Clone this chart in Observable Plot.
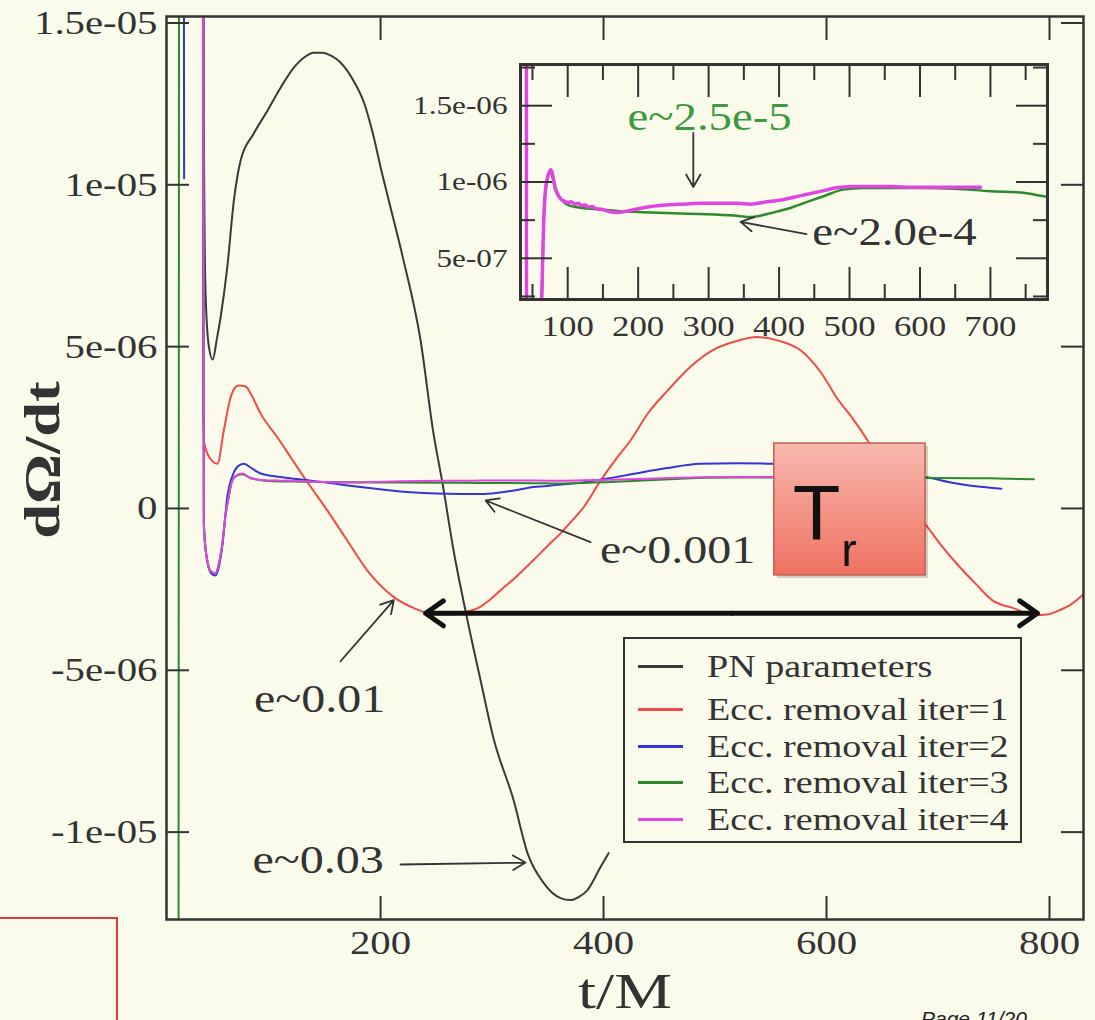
<!DOCTYPE html>
<html>
<head>
<meta charset="utf-8">
<script src="https://cdn.jsdelivr.net/npm/d3@7"></script>
<script src="https://cdn.jsdelivr.net/npm/@observablehq/plot@0.6"></script>
<style>
  html, body { margin:0; padding:0; background:#fbfbec; width:1095px; height:1020px; overflow:hidden; }
  #wrap { position:relative; width:1095px; height:1020px; overflow:hidden; font-family:"Liberation Serif", serif; }
  #wrap svg { position:absolute; left:0; top:0; }
  #legend { position:absolute; left:623px; top:637px; width:399px; height:206px; box-sizing:border-box; border:2px solid #333; background:#fbfbec; }
  .lg-row { position:absolute; left:0; height:0; width:100%; }
  .lg-swatch { position:absolute; left:13px; width:45px; height:3px; top:-1.5px; }
  .lg-text { position:absolute; left:82px; top:0; transform:translateY(-50%) scaleX(1.19); transform-origin:left center; white-space:nowrap; font-size:32px; line-height:0.9; color:#333; }
  #redbox { position:absolute; left:-10px; top:917px; width:128px; height:200px; box-sizing:border-box; border:2.5px solid #e03c3c; }
  #page { position:absolute; left:921px; top:1008px; font:italic 21px "Liberation Sans", sans-serif; line-height:21px; color:#222; white-space:nowrap; }
</style>
</head>
<body>
<div id="wrap"></div>
<script>
// ---------------- data ----------------
const tPN = [40, 41.5, 43, 46, 49.5, 53, 56.5, 62.5, 68.4, 74.4, 86, 98.4, 110.3, 122.2, 132, 140.2, 147.7, 156, 164, 176, 185, 193, 201, 209, 220, 235.9, 247.5, 255.6, 265.5, 278, 289.7, 301.3, 319.3, 331.8, 346.2, 361.4, 370.4, 378, 385.6, 397.3, 404.5];
const vPN = [3e-5, 1.2e-5, 6.7e-6, 5.0e-6, 4.6e-6, 5.2e-6, 5.9e-6, 7.45e-6, 9.5e-6, 1.074e-5, 1.157e-5, 1.228e-5, 1.30e-5, 1.362e-5, 1.395e-5, 1.408e-5, 1.408e-5, 1.398e-5, 1.378e-5, 1.32e-5, 1.255e-5, 1.16e-5, 1.04e-5, 9.29e-6, 7.75e-6, 5.19e-6, 2.31e-6, 0.77e-6, -1.3e-6, -3.46e-6, -5.31e-6, -7.1e-6, -9.01e-6, -1.065e-5, -1.157e-5, -1.204e-5, -1.21e-5, -1.2e-5, -1.179e-5, -1.108e-5, -1.065e-5];

const tIter1 = [40.4, 40.8, 42, 47, 53.6, 59.4, 65.5, 70, 73, 79, 85, 92.4, 107.4, 120, 131.2, 152.2, 170.1, 188, 212, 229.9, 245, 262.8, 276, 286.7, 297, 307.6, 322, 337, 350, 361.4, 372, 382, 397.3, 412.3, 424.2, 440, 457.4, 477, 497.3, 521, 537, 555, 577, 595, 609, 624, 636.8, 650, 663, 676, 688.8, 702, 716.6, 733, 748.9, 767.7, 786, 798, 808.6, 820, 830.5];
const vIter1 = [3e-5, 3.0e-6, 2.0e-6, 1.55e-6, 1.38e-6, 2.41e-6, 3.43e-6, 3.75e-6, 3.8e-6, 3.77e-6, 3.45e-6, 2.93e-6, 2.2e-6, 1.55e-6, 0.97e-6, -0.06e-6, -0.99e-6, -1.91e-6, -2.74e-6, -3.08e-6, -3.25e-6, -3.28e-6, -3.2e-6, -3.09e-6, -2.85e-6, -2.53e-6, -2.1e-6, -1.6e-6, -1.15e-6, -0.77e-6, -0.37e-6, 0.03e-6, 0.86e-6, 1.58e-6, 2.1e-6, 2.95e-6, 3.64e-6, 4.35e-6, 4.88e-6, 5.19e-6, 5.3e-6, 5.2e-6, 4.88e-6, 4.2e-6, 3.43e-6, 2.75e-6, 2.1e-6, 1.3e-6, 0.55e-6, -0.05e-6, -0.5e-6, -1.1e-6, -1.7e-6, -2.3e-6, -2.84e-6, -3.08e-6, -3.3e-6, -3.28e-6, -3.15e-6, -2.95e-6, -2.65e-6];

const tIter2 = [23.2, 23.8, 24, 40.6, 41.5, 44, 48, 52, 55, 58, 62.5, 68, 72, 77.4, 84, 92.4, 110, 137.2, 160, 182, 205, 227, 250, 271.7, 292.7, 315, 337.5, 360, 382.3, 405, 427.2, 457, 487, 520, 553, 600, 650, 688.8, 716.6, 740, 756.8];
const vIter2 = [3e-5, 1.02e-5, null, 3e-5, -0.5e-6, -1.5e-6, -2.0e-6, -2.07e-6, -1.8e-6, -1.19e-6, 0.35e-6, 1.08e-6, 1.3e-6, 1.38e-6, 1.25e-6, 1.08e-6, 0.97e-6, 0.86e-6, 0.76e-6, 0.66e-6, 0.57e-6, 0.5e-6, 0.46e-6, 0.45e-6, 0.45e-6, 0.53e-6, 0.66e-6, 0.73e-6, 0.81e-6, 0.93e-6, 1.07e-6, 1.25e-6, 1.38e-6, 1.4e-6, 1.38e-6, 1.3e-6, 1.15e-6, 0.97e-6, 0.77e-6, 0.66e-6, 0.61e-6];

const tIter3 = [18.6, 19.4, 19.6, 40.4, 41.5, 44, 48, 52, 55, 58, 61, 63.5, 66, 70, 76, 83, 90, 100, 120, 146.8, 170, 195, 217.7, 250, 288.7, 336, 359.6, 383, 400, 416, 440, 465, 491, 520, 560, 600, 650, 700, 746.8, 765, 786];
const vIter3 = [-3e-5, 3e-5, null, 3e-5, -0.5e-6, -1.5e-6, -1.95e-6, -2.0e-6, -1.7e-6, -1.1e-6, -0.2e-6, 0.3e-6, 0.75e-6, 1.0e-6, 1.06e-6, 0.94e-6, 0.89e-6, 0.85e-6, 0.83e-6, 0.82e-6, 0.81e-6, 0.805e-6, 0.80e-6, 0.795e-6, 0.79e-6, 0.78e-6, 0.77e-6, 0.79e-6, 0.81e-6, 0.83e-6, 0.87e-6, 0.91e-6, 0.95e-6, 0.96e-6, 0.96e-6, 0.96e-6, 0.955e-6, 0.94e-6, 0.93e-6, 0.915e-6, 0.90e-6];

const tIter4 = [40.4, 41.5, 44, 48, 52, 55, 58, 61, 63.5, 66, 70, 76, 83, 90, 95, 100, 105, 110, 115, 120, 125, 130, 135, 140, 150, 160, 170.5, 195, 217.7, 240, 265, 290, 312, 340, 359.6, 383, 400, 421, 440, 460, 487, 511, 550, 600, 650, 685.8];
const vIter4 = [3e-5, -0.5e-6, -1.5e-6, -1.95e-6, -2.0e-6, -1.7e-6, -1.1e-6, -0.2e-6, 0.3e-6, 0.75e-6, 1.0e-6, 1.08e-6, 0.95e-6, 0.89e-6, 0.875e-6, 0.865e-6, 0.87e-6, 0.855e-6, 0.86e-6, 0.845e-6, 0.85e-6, 0.835e-6, 0.84e-6, 0.825e-6, 0.82e-6, 0.805e-6, 0.80e-6, 0.82e-6, 0.84e-6, 0.85e-6, 0.855e-6, 0.86e-6, 0.86e-6, 0.86e-6, 0.855e-6, 0.87e-6, 0.88e-6, 0.90e-6, 0.92e-6, 0.94e-6, 0.965e-6, 0.97e-6, 0.97e-6, 0.965e-6, 0.965e-6, 0.965e-6];

const seriesNames = ["PN parameters", "Ecc. removal iter=1", "Ecc. removal iter=2", "Ecc. removal iter=3", "Ecc. removal iter=4"];
const seriesColors = ["#3a3a3a", "#f04a4a", "#3535d5", "#2b8a2b", "#e045e0"];

const xTicks = [200, 400, 600, 800];
const xTickLabels = ["200", "400", "600", "800"];
const yTicks = [-1e-5, -5e-6, 0, 5e-6, 1e-5, 1.5e-5];
const yTickLabels = ["-1e-05", "-5e-06", "0", "5e-06", "1e-05", "1.5e-05"];

const insetXTicks = [100, 200, 300, 400, 500, 600, 700];
const insetXTickLabels = ["100", "200", "300", "400", "500", "600", "700"];
const insetXMinor = [50, 150, 250, 350, 450, 550, 650, 750];
const insetYTicks = [5e-7, 1e-6, 1.5e-6];
const insetYTickLabels = ["5e-07", "1e-06", "1.5e-06"];
const insetYMinor = [2.5e-7, 7.5e-7, 1.25e-6, 1.75e-6];

// annotations (data coordinates)
const noteText = ["e~0.001", "e~0.01", "e~0.03"];
const noteT = [466.4, 145.3, 143.9];
const noteV = [-1.30e-6, -5.88e-6, -1.0864e-5];
const noteArrowT1 = [388.3, 164.1, 217.9];
const noteArrowV1 = [-1.04e-6, -4.72e-6, -1.10e-5];
const noteArrowT2 = [294.2, 211.9, 330];
const noteArrowV2 = [0.247e-6, -2.83e-6, -1.094e-5];

const trArrowMid = 514.8;
const trArrowEnds = [240.4, 789.2];
const trArrowV = -3.24e-6;
const trBoxT = [553.2, 688.8];
const trBoxV = [-2.068e-6, 2.006e-6];
const trLetterT = [591, 620];
const trLetterV = [-0.216e-6, -1.32e-6];

const insetNoteText = ["e~2.5e-5", "e~2.0e-4"];
const insetNoteT = [301.4, 563.8];
const insetNoteV = [1.421e-6, 0.671e-6];
const insetNoteColor = ["#3d9a3d", "#333333"];
const insetArrowT1 = [278.3, 439];
const insetArrowV1 = [1.322e-6, 0.658e-6];
const insetArrowT2 = [278.3, 345.4];
const insetArrowV2 = [0.967e-6, 0.739e-6];

// ---------------- build ----------------
const mk = (ts, vs) => ts.map((t, i) => ({t, v: vs[i]}));
const series = [
  mk(tPN, vPN), mk(tIter1, vIter1), mk(tIter2, vIter2), mk(tIter3, vIter3), mk(tIter4, vIter4)
].map((data, i) => ({data, name: seriesNames[i], color: seriesColors[i]}));

const notes = noteText.map((s, i) => ({s, t: noteT[i], v: noteV[i]}));
const noteArrows = noteText.map((s, i) => ({x1: noteArrowT1[i], y1: noteArrowV1[i], x2: noteArrowT2[i], y2: noteArrowV2[i]}));
const trArrows = trArrowEnds.map(e => ({x1: trArrowMid, x2: e, y: trArrowV}));
const trBox = [{x1: trBoxT[0], x2: trBoxT[1], y1: trBoxV[0], y2: trBoxV[1]}];

const ink = "#333";
const axisStyle = {stroke: ink, strokeWidth: 2, color: ink};
const fmt = (ticks, labels) => d => labels[ticks.indexOf(d)];

const main = Plot.plot({
  width: 1095, height: 1020,
  marginLeft: 166, marginRight: 12, marginTop: 16, marginBottom: 101,
  style: {background: "transparent", fontFamily: "'Liberation Serif', serif", color: ink, overflow: "visible"},
  x: {domain: [8, 830.5]},
  y: {domain: [-1.27e-5, 1.52e-5]},
  marks: [
    ...series.map(s => Plot.line(s.data, {x: "t", y: "v", stroke: s.color, strokeWidth: 2, curve: "monotone-x", clip: true})),
    Plot.arrow(trArrows, {x1: "x1", y1: "y", x2: "x2", y2: "y", stroke: "#111", strokeWidth: 5, headLength: 6.5, headAngle: 70}),
    Plot.rect(trBox, {x1: "x1", x2: "x2", y1: "y1", y2: "y2", fill: "#000", fillOpacity: 0.18, dx: 3, dy: 3}),
    Plot.rect(trBox, {x1: "x1", x2: "x2", y1: "y1", y2: "y2", fill: "url(#trGrad)", stroke: "#c85a50", strokeWidth: 1.5}),
    Plot.text([{s: "T", t: trLetterT[0], v: trLetterV[0]}], {x: "t", y: "v", text: "s", fontSize: 78, fontFamily: "'Liberation Sans', sans-serif", fill: "#111", lineAnchor: "middle"}),
    Plot.text([{s: "r", t: trLetterT[1], v: trLetterV[1]}], {x: "t", y: "v", text: "s", fontSize: 46, fontFamily: "'Liberation Sans', sans-serif", fill: "#111", lineAnchor: "middle"}),
    Plot.arrow(noteArrows, {x1: "x1", y1: "y1", x2: "x2", y2: "y2", stroke: ink, strokeWidth: 1.8, headLength: 12}),
    Plot.text(notes, {x: "t", y: "v", text: "s", fontSize: 40, fill: ink, lineAnchor: "middle"}),
    Plot.axisX({anchor: "bottom", ticks: xTicks, tickFormat: fmt(xTicks, xTickLabels), tickSize: -23, tickPadding: 33, fontSize: 34, label: null, ...axisStyle}),
    Plot.axisX({anchor: "top", ticks: xTicks, tickSize: -23, label: null, ...axisStyle, fill: "none"}),
    Plot.axisY({anchor: "left", ticks: yTicks, tickFormat: fmt(yTicks, yTickLabels), tickSize: -23, tickPadding: 32, fontSize: 34, label: null, ...axisStyle}),
    Plot.axisY({anchor: "right", ticks: yTicks, tickSize: -23, label: null, ...axisStyle, fill: "none"}),
    Plot.frame({stroke: ink, strokeWidth: 2.5}),
    Plot.text(["t/M"], {frameAnchor: "bottom", dy: 72, text: d => d, fontSize: 50, fill: ink, textAnchor: "middle", lineAnchor: "middle"}),
    Plot.text(["dΩ/dt"], {frameAnchor: "left", dx: -124, dy: -8, rotate: -90, text: d => d, fontSize: 50, fontWeight: "bold", fill: ink, textAnchor: "middle", lineAnchor: "middle"})
  ]
});

const ns = "http://www.w3.org/2000/svg";
const defs = document.createElementNS(ns, "defs");
defs.innerHTML = '<linearGradient id="trGrad" x1="0" y1="0" x2="0" y2="1"><stop offset="0" stop-color="#f9b9ae"/><stop offset="1" stop-color="#ee7262"/></linearGradient>';
main.insertBefore(defs, main.firstChild);

const insetNotes = insetNoteText.map((s, i) => ({s, t: insetNoteT[i], v: insetNoteV[i], c: insetNoteColor[i]}));
const insetArrows = insetArrowT1.map((t, i) => ({x1: t, y1: insetArrowV1[i], x2: insetArrowT2[i], y2: insetArrowV2[i]}));

const inset = Plot.plot({
  width: 640, height: 340,
  marginLeft: 100, marginRight: 13, marginTop: 34, marginBottom: 71,
  style: {background: "transparent", fontFamily: "'Liberation Serif', serif", color: ink, overflow: "visible"},
  x: {domain: [33, 781]},
  y: {domain: [2.3e-7, 1.77e-6]},
  marks: [
    Plot.line(series[3].data, {x: "t", y: "v", stroke: seriesColors[3], strokeWidth: 2.5, curve: "monotone-x", clip: true}),
    Plot.line(series[4].data, {x: "t", y: "v", stroke: seriesColors[4], strokeWidth: 3.5, curve: "monotone-x", clip: true}),
    Plot.arrow(insetArrows, {x1: "x1", y1: "y1", x2: "x2", y2: "y2", stroke: ink, strokeWidth: 1.8, headLength: 12}),
    Plot.text(insetNotes, {x: "t", y: "v", text: "s", fill: "c", fontSize: 39, lineAnchor: "middle"}),
    Plot.axisX({anchor: "bottom", ticks: insetXTicks, tickFormat: fmt(insetXTicks, insetXTickLabels), tickSize: -32, tickPadding: 48, fontSize: 29, label: null, ...axisStyle}),
    Plot.axisX({anchor: "bottom", ticks: insetXMinor, tickSize: -15, label: null, ...axisStyle, fill: "none"}),
    Plot.axisX({anchor: "top", ticks: insetXTicks, tickSize: -32, label: null, ...axisStyle, fill: "none"}),
    Plot.axisX({anchor: "top", ticks: insetXMinor, tickSize: -15, label: null, ...axisStyle, fill: "none"}),
    Plot.axisY({anchor: "left", ticks: insetYTicks, tickFormat: fmt(insetYTicks, insetYTickLabels), tickSize: -32, tickPadding: 45, fontSize: 26, label: null, ...axisStyle}),
    Plot.axisY({anchor: "left", ticks: insetYMinor, tickSize: -15, label: null, ...axisStyle, fill: "none"}),
    Plot.axisY({anchor: "right", ticks: insetYTicks, tickSize: -32, label: null, ...axisStyle, fill: "none"}),
    Plot.axisY({anchor: "right", ticks: insetYMinor, tickSize: -15, label: null, ...axisStyle, fill: "none"}),
    Plot.frame({stroke: ink, strokeWidth: 3})
  ]
});
inset.style.left = "420px";
inset.style.top = "30px";

// horizontal stretch of the serif lettering (reference text is wide)
function stretchTexts(svg) {
  svg.querySelectorAll("text").forEach(el => {
    const s = el.textContent;
    let k = 1.2;
    if (s === "t/M") k = 1.3;
    else if (s === "dΩ/dt") k = 1.25;
    else if (s === "T" || s === "r") k = 1;
    if (k !== 1) el.setAttribute("transform", (el.getAttribute("transform") || "") + ` scale(${k},1)`);
  });
}
stretchTexts(main);
stretchTexts(inset);

const wrap = document.getElementById("wrap");
wrap.appendChild(main);
wrap.appendChild(inset);

// legend
const rowCenters = [27, 70, 107, 143, 180];
const legend = document.createElement("div");
legend.id = "legend";
seriesNames.forEach((name, i) => {
  const row = document.createElement("div");
  row.className = "lg-row";
  row.style.top = rowCenters[i] + "px";
  const sw = document.createElement("div");
  sw.className = "lg-swatch";
  sw.style.background = seriesColors[i];
  const tx = document.createElement("div");
  tx.className = "lg-text";
  tx.textContent = name;
  row.appendChild(sw);
  row.appendChild(tx);
  legend.appendChild(row);
});
wrap.appendChild(legend);

const redbox = document.createElement("div");
redbox.id = "redbox";
wrap.appendChild(redbox);

const page = document.createElement("div");
page.id = "page";
page.textContent = "Page 11/20";
wrap.appendChild(page);
</script>
</body>
</html>
